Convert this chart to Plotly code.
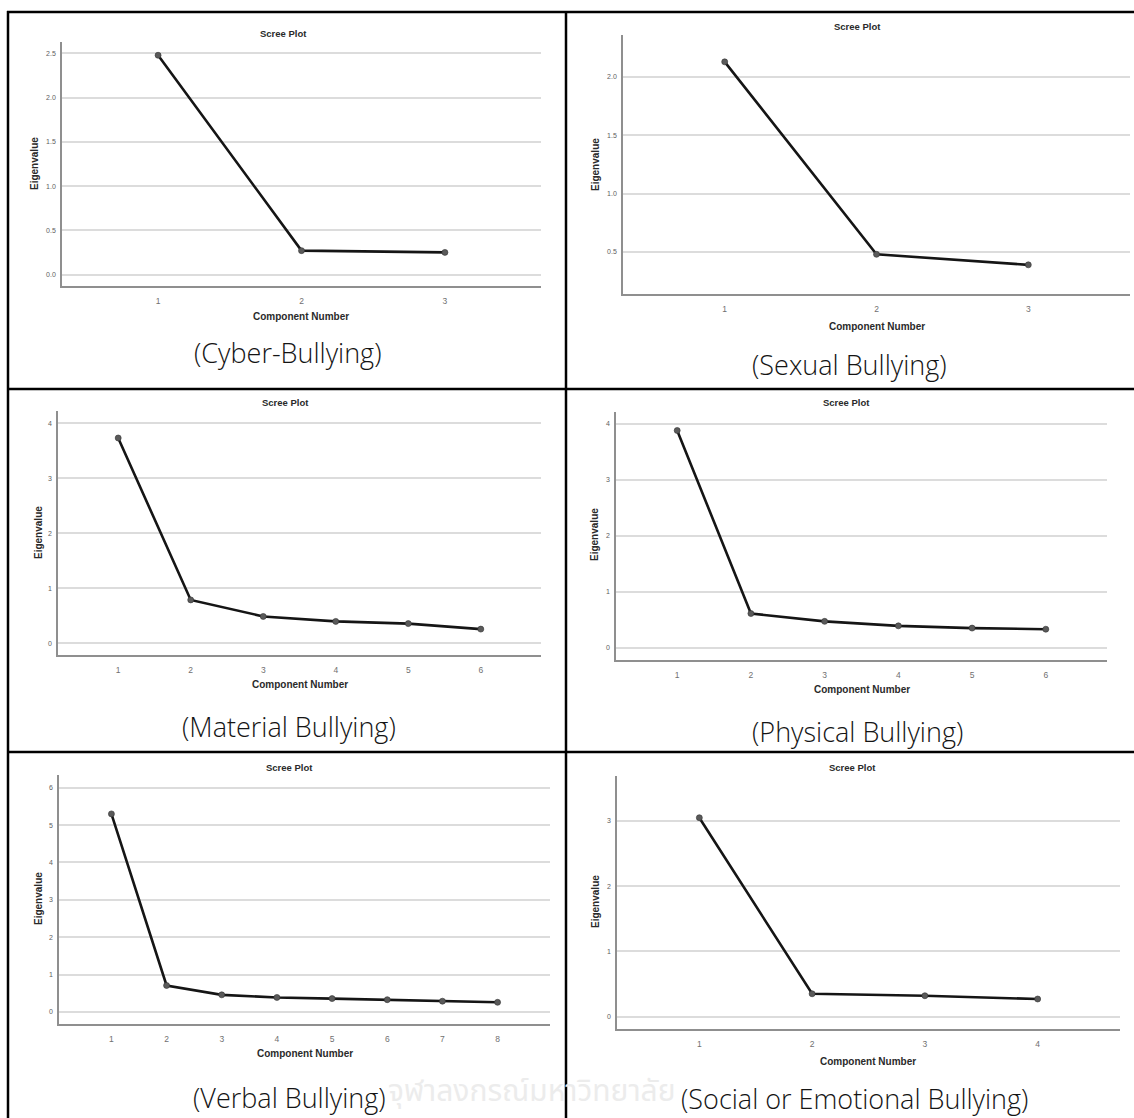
import plotly.graph_objects as go

# Eigenvalues per bullying sub-scale (principal components, in order)
cyber_eigen = [2.48, 0.27, 0.25]
sexual_eigen = [2.13, 0.48, 0.39]
material_eigen = [3.73, 0.79, 0.49, 0.40, 0.36, 0.26]
physical_eigen = [3.88, 0.61, 0.47, 0.39, 0.35, 0.33]
verbal_eigen = [5.30, 0.71, 0.46, 0.39, 0.36, 0.33, 0.29, 0.26]
social_eigen = [3.05, 0.35, 0.32, 0.27]

captions = [
    "(Cyber-Bullying)",
    "(Sexual Bullying)",
    "(Material Bullying)",
    "(Physical Bullying)",
    "(Verbal Bullying)",
    "(Social or Emotional Bullying)",
]
series = [cyber_eigen, sexual_eigen, material_eigen,
          physical_eigen, verbal_eigen, social_eigen]

W, H = 1134, 1118


def px(x):
    return x / W


def py(y):
    return 1 - y / H


# Page geometry of each scree plot (pixels): plot box, axis ranges, label spots
layout_specs = [
    dict(box=(62, 541, 42, 286), xr=(0.33, 3.67), yr=(-0.13, 2.63), dtick=0.5, fmt=".1f",
         title=(283, 33), xlab=(301, 316), ylab=(35, 164), cap=(287, 352)),
    dict(box=(623, 1130, 35, 294), xr=(0.33, 3.67), yr=(0.14, 2.36), dtick=0.5, fmt=".1f",
         title=(857, 27), xlab=(877, 326), ylab=(595, 165), cap=(849, 364)),
    dict(box=(58, 541, 411, 655), xr=(0.17, 6.83), yr=(-0.21, 4.22), dtick=1, fmt="d",
         title=(285, 403), xlab=(300, 684), ylab=(38, 533), cap=(289, 726)),
    dict(box=(616, 1107, 412, 660), xr=(0.17, 6.83), yr=(-0.22, 4.21), dtick=1, fmt="d",
         title=(846, 403), xlab=(862, 689), ylab=(594, 535), cap=(857, 731)),
    dict(box=(59, 550, 775, 1024), xr=(0.05, 8.95), yr=(-0.32, 6.34), dtick=1, fmt="d",
         title=(289, 767), xlab=(305, 1053), ylab=(38, 899), cap=(289, 1097)),
    dict(box=(617, 1120, 776, 1029), xr=(0.27, 4.73), yr=(-0.19, 3.69), dtick=1, fmt="d",
         title=(852, 767), xlab=(868, 1061), ylab=(595, 902), cap=(854, 1098)),
]

LABEL_FONT = "Liberation Sans, Arial, sans-serif"
CAPTION_FONT = "Open Sans, Noto Sans, sans-serif"

fig = go.Figure()
annotations = []

# Faint university name printed behind the bottom row
annotations.append(dict(text="จุฬาลงกรณ์มหาวิทยาลัย", x=px(532), y=py(1092),
                        xref="paper", yref="paper", showarrow=False,
                        xanchor="center", yanchor="middle",
                        font=dict(family="Noto Sans Thai, Noto Sans, sans-serif",
                                  size=30, color="#ececec")))

for i, (vals, spec, cap) in enumerate(zip(series, layout_specs, captions), start=1):
    comps = list(range(1, len(vals) + 1))
    xa = "x" if i == 1 else f"x{i}"
    ya = "y" if i == 1 else f"y{i}"
    fig.add_trace(go.Scatter(
        x=comps, y=vals, mode="lines+markers",
        line=dict(color="#151515", width=2.6),
        marker=dict(color="#5a5a5a", size=6, line=dict(color="#333333", width=0.6)),
        xaxis=xa, yaxis=ya, showlegend=False, hoverinfo="x+y",
    ))
    x0, x1, yt, yb = spec["box"]
    xkey = "xaxis" if i == 1 else f"xaxis{i}"
    ykey = "yaxis" if i == 1 else f"yaxis{i}"
    fig.layout[xkey] = dict(
        domain=[px(x0), px(x1)], anchor=ya, range=list(spec["xr"]),
        tickmode="array", tickvals=comps, ticktext=[str(c) for c in comps],
        showgrid=False, zeroline=False, showline=True,
        linecolor="#8f8f8f", linewidth=1.5, ticks="", ticklabelstandoff=6,
        tickfont=dict(family=LABEL_FONT, size=8.5, color="#707070"),
        fixedrange=True,
    )
    fig.layout[ykey] = dict(
        domain=[py(yb), py(yt)], anchor=xa, range=list(spec["yr"]),
        tick0=0, dtick=spec["dtick"], tickformat=spec["fmt"],
        showgrid=True, gridcolor="#dcdcdc", gridwidth=1.5,
        zeroline=False, showline=True, linecolor="#8f8f8f", linewidth=1.5,
        ticks="", ticklabelstandoff=3,
        tickfont=dict(family=LABEL_FONT, size=7, color="#606060"),
        fixedrange=True,
    )
    tx, ty = spec["title"]
    annotations.append(dict(text="<b>Scree Plot</b>", x=px(tx), y=py(ty),
                            xref="paper", yref="paper", showarrow=False,
                            xanchor="center", yanchor="middle",
                            font=dict(family=LABEL_FONT, size=9.5, color="#2a2a2a")))
    lx, ly = spec["xlab"]
    annotations.append(dict(text="<b>Component Number</b>", x=px(lx), y=py(ly),
                            xref="paper", yref="paper", showarrow=False,
                            xanchor="center", yanchor="middle",
                            font=dict(family=LABEL_FONT, size=10, color="#2a2a2a")))
    vx, vy = spec["ylab"]
    annotations.append(dict(text="<b>Eigenvalue</b>", x=px(vx), y=py(vy),
                            xref="paper", yref="paper", showarrow=False, textangle=-90,
                            xanchor="center", yanchor="middle",
                            font=dict(family=LABEL_FONT, size=10, color="#2a2a2a")))
    cx, cy = spec["cap"]
    annotations.append(dict(text=cap, x=px(cx), y=py(cy),
                            xref="paper", yref="paper", showarrow=False,
                            xanchor="center", yanchor="middle",
                            font=dict(family=CAPTION_FONT, size=27, color="#141414",
                                      weight=300)))

# Table rules framing the six cells
border = dict(color="#000000", width=2.5)
shapes = [
    dict(type="line", xref="paper", yref="paper", x0=px(7), x1=1, y0=py(12), y1=py(12), line=border),
    dict(type="line", xref="paper", yref="paper", x0=px(8), x1=px(8), y0=py(11), y1=0, line=border),
    dict(type="line", xref="paper", yref="paper", x0=px(566), x1=px(566), y0=py(11), y1=0, line=border),
    dict(type="line", xref="paper", yref="paper", x0=px(7), x1=1, y0=py(389), y1=py(389), line=border),
    dict(type="line", xref="paper", yref="paper", x0=px(7), x1=1, y0=py(752), y1=py(752), line=border),
]

fig.update_layout(
    width=W, height=H,
    margin=dict(l=0, r=0, t=0, b=0),
    paper_bgcolor="white", plot_bgcolor="white",
    annotations=annotations, shapes=shapes,
    showlegend=False,
)

fig.write_html("out.html", config={"displayModeBar": False})
